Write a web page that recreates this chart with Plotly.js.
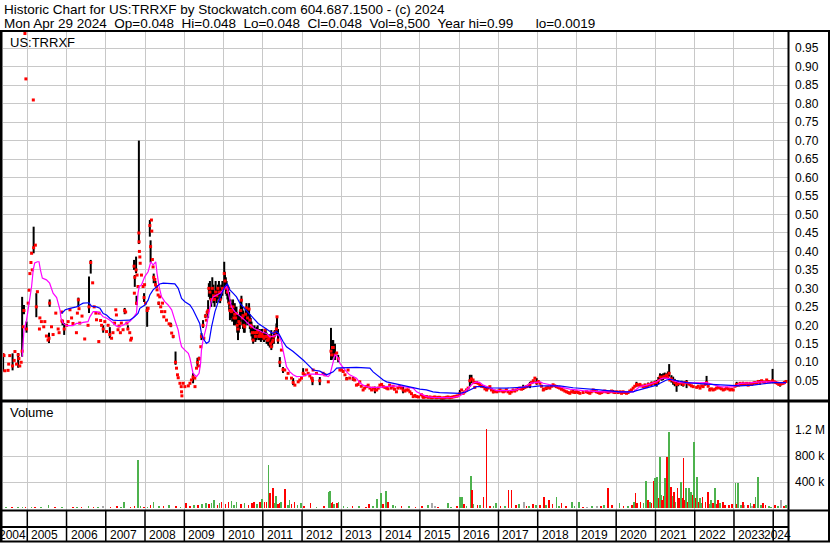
<!DOCTYPE html>
<html><head><meta charset="utf-8">
<script src="https://cdn.plot.ly/plotly-3.0.1.min.js"></script>
<style>html,body{margin:0;padding:0;background:#fff;} #chart{width:830px;height:543px;}</style>
</head><body><div id="chart"></div>
<script>
// ---------- closes (red dots) ----------
const closeDates = [
'2004-05-21','2004-05-29','2004-06-06','2004-07-06','2004-07-12','2004-07-22','2004-08-17','2004-09-01','2004-09-08','2004-09-23','2004-10-08','2004-10-15','2004-10-23','2004-11-05','2004-11-14','2004-11-25','2004-12-01','2004-12-10','2004-12-19','2004-12-25',
'2005-01-09','2005-01-18','2005-01-25','2005-02-04','2005-02-10','2005-02-16','2005-02-26','2005-03-01','2005-03-17','2005-03-26','2005-04-05','2005-04-24','2005-04-28','2005-05-12','2005-06-03','2005-06-13','2005-06-28','2005-07-13','2005-07-22','2005-07-28','2005-08-14','2005-08-29','2005-09-23','2005-10-15','2005-10-24','2005-11-16','2005-11-19','2005-11-25','2005-12-10',
'2006-01-02','2006-01-16','2006-02-02','2006-02-17','2006-03-02','2006-04-03','2006-04-12','2006-04-21','2006-04-27','2006-05-04','2006-05-25','2006-06-19','2006-07-20','2006-07-29','2006-08-14','2006-09-01','2006-09-15','2006-10-01','2006-10-07','2006-10-28','2006-10-31','2006-11-14','2006-11-23','2006-12-08','2006-12-23',
'2007-01-08','2007-01-23','2007-02-08','2007-02-24','2007-03-09','2007-03-24','2007-04-04','2007-04-10','2007-04-25','2007-05-04','2007-05-17','2007-05-26','2007-06-11','2007-06-26','2007-07-05','2007-07-17','2007-07-26','2007-08-12','2007-08-21','2007-08-28','2007-09-21','2007-09-24','2007-09-28','2007-10-10','2007-10-14','2007-10-19','2007-10-28','2007-11-05','2007-11-07','2007-11-10','2007-11-14','2007-11-17','2007-11-29','2007-12-14','2007-12-23','2007-12-28',
'2008-01-06','2008-01-21','2008-01-30','2008-02-15','2008-02-22','2008-03-01','2008-03-04','2008-03-10','2008-03-16','2008-03-22','2008-04-01','2008-04-08','2008-04-17','2008-04-22','2008-05-02','2008-05-08','2008-05-17','2008-05-26','2008-06-03','2008-06-12','2008-06-24','2008-07-03','2008-07-19','2008-08-12','2008-08-28','2008-09-05','2008-09-19','2008-10-11','2008-10-20','2008-10-29','2008-11-05','2008-11-21','2008-12-03','2008-12-06','2008-12-09','2008-12-21',
'2009-01-06','2009-02-07','2009-02-22','2009-03-08','2009-03-23','2009-04-08','2009-04-10','2009-04-24','2009-05-03','2009-05-15','2009-05-18','2009-06-03','2009-06-09','2009-06-24','2009-07-01','2009-07-16','2009-07-25','2009-08-01','2009-08-10','2009-08-17','2009-08-27','2009-09-08','2009-09-18','2009-09-29','2009-10-09','2009-10-19','2009-10-29','2009-11-09','2009-11-19','2009-11-30','2009-12-10','2009-12-21',
'2010-01-07','2010-01-14','2010-01-22','2010-01-29','2010-02-06','2010-02-13','2010-02-22','2010-03-01','2010-03-08','2010-03-15','2010-03-22','2010-03-30','2010-04-08','2010-04-15','2010-04-23','2010-05-01','2010-05-08','2010-05-15','2010-05-23','2010-06-01','2010-06-09','2010-06-16','2010-06-24','2010-07-01','2010-07-09','2010-07-17','2010-07-25','2010-08-02','2010-08-12','2010-08-26','2010-09-02','2010-09-10','2010-09-18','2010-09-26','2010-10-03','2010-10-15','2010-10-24','2010-11-04','2010-11-14','2010-11-24','2010-12-04','2010-12-14','2010-12-24',
'2011-01-04','2011-01-12','2011-01-20','2011-01-28','2011-02-05','2011-02-12','2011-02-20','2011-02-28','2011-03-06','2011-03-14','2011-03-21','2011-03-29','2011-04-06','2011-04-14','2011-04-22','2011-05-07','2011-05-13','2011-05-22','2011-06-08','2011-06-23','2011-07-08','2011-07-24','2011-08-09','2011-08-24','2011-09-25','2011-10-10','2011-10-26','2011-11-26','2011-12-11','2011-12-27',
'2012-01-11','2012-01-27','2012-02-12','2012-02-27','2012-03-13','2012-03-29','2012-04-07','2012-04-13','2012-05-14','2012-06-14','2012-07-15','2012-08-01','2012-09-01','2012-09-26','2012-10-02','2012-10-10','2012-10-17','2012-11-02','2012-11-18','2012-12-02','2012-12-18',
'2013-01-03','2013-01-18','2013-02-03','2013-02-19','2013-03-04','2013-03-19','2013-04-20','2013-05-05','2013-05-21','2013-06-05','2013-06-21','2013-07-05','2013-07-22','2013-08-05','2013-08-23','2013-09-07','2013-09-23','2013-10-09','2013-10-25','2013-11-09','2013-11-25','2013-12-10','2013-12-25',
'2014-01-10','2014-01-25','2014-02-10','2014-02-26','2014-03-10','2014-03-26','2014-04-10','2014-04-27','2014-05-10','2014-05-28','2014-06-10','2014-06-28','2014-07-10','2014-07-29','2014-08-15','2014-08-30','2014-09-15','2014-09-30','2014-10-15','2014-10-31','2014-11-15','2014-12-02','2014-12-20',
'2015-01-15','2015-01-28','2015-02-02','2015-02-18','2015-03-03','2015-03-20','2015-04-05','2015-04-20','2015-05-05','2015-05-20','2015-06-05','2015-06-20','2015-07-05','2015-07-20','2015-08-05','2015-08-20','2015-09-05','2015-09-20','2015-10-05','2015-10-20','2015-11-05','2015-11-20','2015-12-05','2015-12-20',
'2016-01-08','2016-01-24','2016-02-08','2016-02-22','2016-03-09','2016-03-25','2016-04-10','2016-04-25','2016-05-10','2016-05-18','2016-05-26','2016-06-11','2016-06-26','2016-07-12','2016-07-28','2016-08-12','2016-08-28','2016-09-13','2016-09-28','2016-10-13','2016-10-28','2016-11-14','2016-11-30','2016-12-15',
'2017-01-01','2017-01-15','2017-02-01','2017-02-15','2017-03-01','2017-03-16','2017-04-01','2017-04-17','2017-05-01','2017-05-17','2017-06-01','2017-06-18','2017-07-04','2017-07-19','2017-08-04','2017-08-19','2017-09-04','2017-09-20','2017-10-05','2017-10-21','2017-11-05','2017-11-21','2017-12-06','2017-12-22',
'2018-01-06','2018-01-22','2018-02-06','2018-02-22','2018-03-08','2018-03-23','2018-04-08','2018-04-24','2018-05-09','2018-05-24','2018-06-09','2018-06-25','2018-07-10','2018-07-25','2018-08-10','2018-08-26','2018-09-11','2018-09-27','2018-10-12','2018-10-27','2018-11-12','2018-11-27','2018-12-12','2018-12-28',
'2019-01-13','2019-01-29','2019-02-28','2019-03-31','2019-04-15','2019-05-01','2019-05-15','2019-06-01','2019-06-15','2019-07-02','2019-07-17','2019-08-02','2019-08-17','2019-09-02','2019-09-17','2019-10-03','2019-10-18','2019-11-04','2019-11-19','2019-12-04','2019-12-19',
'2020-01-05','2020-01-20','2020-02-05','2020-02-20','2020-03-05','2020-03-20','2020-04-06','2020-04-21','2020-05-07','2020-05-22','2020-06-07','2020-06-22','2020-07-08','2020-07-23','2020-08-09','2020-08-24','2020-09-09','2020-09-24','2020-10-10','2020-10-25','2020-11-10','2020-11-25','2020-12-11','2020-12-26',
'2021-01-12','2021-01-27','2021-02-12','2021-02-27','2021-03-13','2021-03-28','2021-04-14','2021-04-26','2021-05-08','2021-05-14','2021-05-29','2021-06-14','2021-06-29','2021-07-16','2021-07-31','2021-08-16','2021-09-01','2021-09-16','2021-10-01','2021-10-17','2021-11-01','2021-11-17','2021-12-02','2021-12-18',
'2022-01-19','2022-02-03','2022-02-19','2022-03-06','2022-03-20','2022-04-06','2022-04-21','2022-05-06','2022-05-21','2022-06-05','2022-06-21','2022-07-07','2022-07-23','2022-08-07','2022-08-23','2022-09-07','2022-09-23','2022-10-08','2022-10-24','2022-11-09','2022-11-25','2022-12-10','2022-12-25',
'2023-01-10','2023-01-26','2023-02-10','2023-02-26','2023-03-12','2023-03-27','2023-04-12','2023-04-28','2023-05-13','2023-05-28','2023-06-13','2023-06-28','2023-07-14','2023-07-30','2023-08-14','2023-08-30','2023-09-15','2023-10-01','2023-10-16','2023-11-01','2023-11-16','2023-12-01','2023-12-26',
'2024-01-10','2024-01-25','2024-02-08','2024-02-22','2024-03-05','2024-03-20','2024-04-02','2024-04-15','2024-04-29'
];
const closeValues = [
.12,.118,.077,.078,.095,.118,.09,.105,.129,.095,.12,.11,.09,.10,.13,.196,.24,.99,.867,.19,
.26,.295,.34,.37,.395,.35,.81,.41,.417,.25,.291,.19,.22,.21,.196,.21,.171,.16,.165,.26,.196,.175,.233,.19,.18,.236,.212,.21,.19,
.20,.21,.242,.22,.205,.18,.233,.269,.245,.206,.225,.163,.20,.25,.37,.315,.25,.233,.215,.156,.233,.213,.20,.19,.21,
.183,.20,.175,.165,.18,.206,.242,.228,.188,.198,.18,.206,.188,.24,.236,.206,.19,.18,.16,.165,.36,.287,.33,.35,.26,.336,.305,.45,.426,.40,.385,.368,.336,.305,.275,.31,
.26,.24,.246,.47,.413,.485,.455,.378,.358,.33,.324,.31,.305,.296,.282,.26,.277,.25,.237,.26,.223,.237,.214,.204,.20,.179,.17,.10,.084,.066,.058,.043,.034,.02,.009,.043,
.034,.036,.043,.052,.06,.057,.034,.084,.10,.09,.11,.142,.17,.20,.165,.225,.214,.235,.24,.30,.29,.27,.30,.28,.27,.29,.28,.30,.29,.27,.29,.30,
.34,.32,.30,.305,.29,.30,.26,.24,.25,.237,.24,.25,.22,.23,.22,.232,.20,.19,.21,.205,.24,.268,.22,.226,.20,.196,.23,.247,.22,.244,.214,.20,.196,.18,.16,.18,.17,.18,.185,.17,.178,.17,.175,
.17,.165,.187,.17,.17,.16,.16,.165,.17,.15,.142,.155,.16,.17,.18,.19,.223,.16,.10,.133,.08,.079,.057,.07,.057,.045,.038,.047,.052,.057,
.07,.066,.079,.07,.063,.057,.05,.079,.07,.05,.07,.066,.047,.13,.12,.14,.14,.12,.125,.11,.079,
.079,.075,.066,.055,.079,.057,.055,.052,.038,.04,.047,.035,.025,.03,.034,.038,.03,.025,.03,.025,.025,.03,.038,
.04,.034,.032,.03,.028,.038,.03,.035,.027,.02,.03,.034,.03,.025,.022,.025,.025,.02,.015,.007,.01,.007,.006,
.012,.008,.005,.006,.007,.005,.006,.004,.005,.006,.004,.005,.005,.003,.003,.004,.005,.006,.004,.005,.006,.007,.008,.009,
.015,.025,.016,.02,.025,.03,.05,.055,.052,.045,.032,.045,.043,.039,.035,.034,.028,.025,.03,.034,.025,.02,.022,.02,
.022,.025,.022,.02,.022,.025,.02,.016,.02,.025,.022,.025,.028,.03,.027,.03,.032,.034,.036,.04,.045,.05,.057,.045,
.048,.043,.035,.025,.028,.03,.032,.03,.035,.039,.036,.034,.032,.03,.027,.025,.022,.02,.018,.016,.02,.02,.018,.02,
.018,.016,.018,.02,.018,.016,.02,.025,.022,.02,.018,.016,.018,.02,.022,.02,.018,.02,.022,.02,.018,
.02,.018,.02,.016,.02,.018,.016,.018,.022,.025,.03,.035,.04,.038,.04,.036,.034,.038,.034,.04,.039,.042,.043,.045,
.045,.05,.06,.058,.06,.062,.065,.06,.07,.052,.055,.05,.045,.04,.042,.043,.045,.04,.045,.045,.042,.039,.036,.034,
.032,.035,.03,.036,.034,.04,.045,.035,.025,.028,.025,.027,.03,.032,.03,.028,.025,.027,.03,.028,.025,.027,.025,
.035,.04,.038,.043,.04,.043,.04,.043,.038,.043,.04,.043,.045,.043,.048,.045,.05,.047,.045,.052,.048,.047,.05,
.047,.045,.043,.04,.04,.042,.043,.045,.048
];

// ---------- high-low bars (black) ----------
const barDates = [
'2004-05-21','2004-08-17','2004-10-08','2004-11-14','2004-12-01','2004-12-25',
'2005-03-01','2005-03-26','2005-07-22','2005-07-28','2005-11-25','2005-12-10',
'2006-04-21','2006-07-29','2006-08-14','2006-12-08',
'2007-02-08','2007-06-26','2007-07-26','2007-09-21','2007-09-28','2007-10-10','2007-10-14','2007-11-05','2007-12-23',
'2008-01-21','2008-02-15','2008-02-22','2008-03-22','2008-04-08','2008-05-08','2008-08-28','2008-09-19','2008-10-11',
'2009-03-23','2009-05-03','2009-05-18','2009-06-09','2009-06-24','2009-07-16','2009-08-01','2009-08-10','2009-08-17','2009-08-27','2009-09-08','2009-09-18','2009-09-29','2009-10-09','2009-10-19','2009-10-29','2009-11-09','2009-11-19','2009-11-30','2009-12-10','2009-12-21',
'2010-01-07','2010-01-14','2010-01-22','2010-01-29','2010-02-06','2010-02-13','2010-02-22','2010-03-01','2010-03-08','2010-03-15','2010-03-22','2010-03-30','2010-04-08','2010-04-15','2010-04-23','2010-05-01','2010-05-08','2010-05-15','2010-05-23','2010-06-01','2010-06-09','2010-06-16','2010-06-24','2010-07-01','2010-07-09','2010-07-17','2010-07-25','2010-08-02','2010-08-12','2010-08-26','2010-09-02','2010-09-10','2010-09-18','2010-09-26','2010-10-03','2010-10-15','2010-10-24','2010-11-04','2010-11-14','2010-11-24','2010-12-04','2010-12-14','2010-12-24',
'2011-01-04','2011-01-12','2011-01-20','2011-01-28','2011-02-05','2011-02-12','2011-02-20','2011-02-28','2011-03-06','2011-03-14','2011-03-21','2011-03-29','2011-04-06','2011-04-14','2011-04-22','2011-05-07','2011-05-13','2011-05-22','2011-06-08','2011-07-08','2011-10-10',
'2012-01-11','2012-04-07','2012-06-14','2012-09-26','2012-10-02','2012-10-10','2012-10-17','2012-11-02','2012-12-02',
'2013-02-19','2013-04-20','2013-11-09',
'2014-07-29',
'2016-01-08','2016-04-10','2016-04-25','2016-05-26','2016-09-13','2016-11-14',
'2017-08-19','2017-10-21','2017-11-21','2017-12-22',
'2018-02-22','2018-03-23','2018-11-27',
'2019-12-04',
'2020-05-07','2020-07-08','2020-08-09','2020-09-24','2020-10-25','2020-11-25','2020-12-26',
'2021-01-12','2021-01-27','2021-02-12','2021-02-27','2021-03-13','2021-03-28','2021-04-14','2021-04-26','2021-05-08','2021-05-29','2021-06-14','2021-06-29','2021-07-16','2021-07-31','2021-09-01','2021-09-16','2021-10-17',
'2022-01-19','2022-04-21','2022-05-21',
'2023-01-26','2023-03-27','2023-06-28','2023-08-30','2023-12-26',
'2024-03-05'
];
const barHigh = [
.125,.124,.125,.277,.255,.21,
.467,.287,.18,.27,.215,.206,
.275,.332,.377,.20,
.195,.247,.20,.377,.336,.386,.28,.70,.287,
.25,.485,.43,.34,.32,.264,.207,.174,.129,
.071,.112,.115,.179,.214,.23,.24,.268,.314,.32,.30,.33,.31,.29,.32,.30,.31,.32,.30,.31,.32,
.372,.345,.33,.32,.31,.305,.29,.268,.27,.26,.26,.27,.25,.26,.25,.25,.23,.214,.23,.24,.27,.28,.25,.24,.23,.22,.25,.26,.25,.26,.23,.22,.21,.20,.19,.20,.19,.196,.20,.19,.19,.185,.19,
.178,.18,.19,.19,.18,.175,.17,.175,.175,.17,.187,.17,.17,.18,.187,.205,.223,.19,.114,.087,.057,
.084,.06,.06,.193,.15,.16,.16,.15,.12,
.06,.06,.034,
.034,
.025,.066,.066,.034,.03,.025,
.039,.047,.052,.057,
.03,.034,.025,
.025,
.025,.047,.043,.042,.045,.048,.05,
.052,.06,.07,.068,.07,.072,.07,.075,.095,.065,.061,.055,.052,.05,.05,.047,.052,
.034,.063,.03,
.047,.047,.047,.052,.082,
.043
];
const barLow = [
.075,.078,.085,.115,.23,.18,
.395,.222,.152,.25,.20,.174,
.25,.233,.34,.18,
.165,.23,.187,.35,.304,.341,.255,.42,.263,
.196,.44,.37,.314,.305,.255,.195,.165,.093,
.043,.088,.105,.16,.193,.22,.23,.22,.277,.27,.25,.27,.26,.25,.27,.26,.27,.28,.26,.27,.28,
.30,.30,.285,.28,.27,.26,.24,.214,.22,.22,.21,.22,.20,.21,.20,.21,.18,.16,.18,.19,.21,.22,.20,.19,.18,.18,.20,.21,.20,.21,.19,.18,.17,.16,.15,.16,.155,.16,.165,.16,.16,.155,.16,
.16,.155,.16,.16,.15,.15,.145,.145,.14,.14,.133,.14,.15,.15,.169,.175,.179,.15,.087,.071,.038,
.066,.038,.038,.106,.106,.11,.115,.106,.10,
.053,.05,.016,
.016,
.011,.034,.043,.03,.022,.016,
.025,.03,.043,.039,
.022,.025,.016,
.016,
.02,.034,.034,.032,.034,.036,.038,
.034,.04,.052,.05,.052,.055,.057,.055,.061,.045,.039,.035,.02,.035,.036,.034,.03,
.03,.039,.022,
.034,.039,.039,.039,.043,
.034
];

// ---------- moving averages ----------
const maShortDates = [
'2004-11-15','2004-12-01','2004-12-25',
'2005-01-18','2005-02-10','2005-02-25','2005-03-11','2005-04-05','2005-04-20','2005-05-03','2005-05-21','2005-06-28','2005-07-28','2005-08-29','2005-10-01','2005-10-15','2005-11-01','2005-11-10','2005-12-01',
'2006-01-02','2006-02-02','2006-03-02','2006-04-03','2006-05-04','2006-06-04','2006-07-20','2006-08-06','2006-09-06','2006-10-07','2006-11-08','2006-12-08',
'2007-01-08','2007-02-08','2007-03-09','2007-04-10','2007-05-11','2007-06-11','2007-07-12','2007-08-12','2007-09-13','2007-10-14','2007-10-28','2007-11-08','2007-11-29','2007-12-30',
'2008-01-30','2008-02-24','2008-03-16','2008-04-10','2008-04-22','2008-05-11','2008-06-03','2008-07-03','2008-08-03','2008-09-05','2008-10-05','2008-11-05','2008-11-21','2008-12-06',
'2009-01-06','2009-02-07','2009-02-22','2009-03-08','2009-03-23','2009-04-24','2009-05-18','2009-06-01','2009-06-09','2009-06-24','2009-07-10','2009-07-25','2009-08-10','2009-08-26','2009-09-11','2009-09-26','2009-10-28','2009-11-28','2009-12-28',
'2010-01-29','2010-02-13','2010-03-01','2010-03-15','2010-04-15','2010-05-15','2010-06-16','2010-07-17','2010-08-17','2010-09-18','2010-10-19','2010-11-19','2010-12-23',
'2011-02-05','2011-03-06','2011-04-06','2011-05-07','2011-05-29','2011-06-23','2011-07-08','2011-07-24','2011-08-09','2011-09-10','2011-10-10','2011-11-11','2011-12-11',
'2012-01-11','2012-02-12','2012-03-13','2012-05-14','2012-07-15','2012-09-01','2012-09-16','2012-10-02','2012-10-17','2012-11-02','2012-11-18','2012-12-02','2012-12-18',
'2013-01-18','2013-02-19','2013-03-19','2013-04-20','2013-05-21','2013-06-21','2013-07-22','2013-08-23','2013-09-23','2013-12-25',
'2014-03-26','2014-04-27','2014-06-28','2014-08-30','2014-10-31','2014-12-02',
'2015-01-01','2015-02-02','2015-03-03','2015-05-03','2015-07-04','2015-09-06','2015-11-07','2015-12-08',
'2016-01-08','2016-02-08','2016-03-09','2016-04-10','2016-05-10','2016-06-11','2016-07-12','2016-08-12','2016-10-13','2016-12-15',
'2017-03-16','2017-06-18','2017-07-19','2017-09-20','2017-10-21','2017-12-22',
'2018-01-22','2018-02-22','2018-03-23','2018-05-24','2018-07-25','2018-08-26','2018-10-27',
'2019-02-28','2019-06-01','2019-09-02','2019-12-04',
'2020-03-05','2020-05-07','2020-06-07','2020-07-08','2020-08-09','2020-10-10','2020-12-11',
'2021-01-12','2021-02-12','2021-03-13','2021-04-14','2021-05-14','2021-06-14','2021-07-16','2021-08-16','2021-10-17','2021-12-18',
'2022-02-19','2022-04-21','2022-06-21','2022-08-23','2022-10-24','2022-12-25',
'2023-01-26','2023-02-26','2023-05-28','2023-08-30','2023-12-01',
'2024-03-03','2024-04-29'
];
const maShortValues = [
.115,.187,.214,
.26,.305,.35,.369,.372,.372,.35,.328,.323,.314,.287,.275,.26,.242,.22,.205,
.199,.20,.199,.205,.205,.208,.21,.223,.237,.237,.233,.223,
.22,.214,.206,.198,.197,.20,.206,.21,.22,.233,.287,.305,.309,.332,
.345,.372,.363,.372,.341,.305,.277,.264,.255,.242,.214,.187,.16,.142,
.133,.124,.111,.088,.07,.061,.07,.097,.133,.16,.178,.196,.223,.25,.268,.277,.282,.287,.296,
.305,.29,.268,.25,.237,.23,.223,.214,.205,.196,.19,.187,.182,
.178,.169,.17,.174,.174,.156,.133,.106,.088,.074,.066,.061,.061,
.062,.066,.068,.068,.066,.061,.066,.084,.106,.12,.118,.111,.097,
.084,.074,.066,.061,.057,.045,.038,.034,.032,.032,
.034,.036,.035,.033,.03,.02,
.016,.011,.007,.005,.004,.004,.005,.007,
.009,.016,.025,.034,.043,.047,.045,.038,.03,.023,
.023,.025,.03,.036,.043,.047,
.047,.043,.041,.036,.033,.03,.027,
.023,.021,.02,.02,
.02,.018,.02,.027,.034,.038,.043,
.047,.054,.057,.057,.055,.05,.048,.045,.044,.043,
.044,.045,.04,.034,.033,.034,
.037,.043,.044,.047,.047,
.045,.044
];
const maLongDates = [
'2005-11-16','2005-12-20',
'2006-02-02','2006-04-03','2006-05-04','2006-06-04','2006-07-29','2006-08-21','2006-10-07','2006-11-08','2006-12-08',
'2007-01-08','2007-02-08','2007-03-09','2007-04-25','2007-06-11','2007-07-12','2007-08-12','2007-09-26','2007-10-28','2007-11-14','2007-12-31',
'2008-01-30','2008-02-15','2008-03-16','2008-04-17','2008-05-17','2008-06-18','2008-08-19','2008-10-05','2008-11-05','2008-12-06',
'2009-01-06','2009-02-22','2009-03-23','2009-04-24','2009-05-24','2009-06-09','2009-06-24','2009-07-25','2009-08-19','2009-09-11','2009-10-13','2009-11-13','2009-12-14',
'2010-01-13','2010-02-04','2010-03-01','2010-03-30','2010-05-01','2010-06-01','2010-07-01','2010-08-17','2010-10-03','2010-11-19',
'2011-01-04','2011-02-20','2011-04-06','2011-05-07','2011-05-29','2011-07-08','2011-08-09','2011-10-10','2011-12-11',
'2012-01-11','2012-02-12','2012-03-13','2012-04-13','2012-06-14','2012-07-15','2012-08-16','2012-09-16','2012-10-17','2012-11-18','2012-12-18',
'2013-05-21','2013-08-08','2013-09-23','2013-10-23','2013-11-25','2013-12-25',
'2014-01-25','2014-02-26','2014-04-27','2014-07-29','2014-09-30','2014-12-02',
'2015-01-01','2015-03-03','2015-05-03','2015-07-04','2015-11-07',
'2016-01-08','2016-03-09','2016-04-10','2016-06-11','2016-08-12','2016-09-13',
'2017-03-16','2017-07-19','2017-11-21',
'2018-01-22','2018-07-25','2018-11-27',
'2019-03-31','2019-08-02',
'2020-02-05','2020-06-07','2020-07-08','2020-10-10',
'2021-01-12','2021-02-12','2021-04-14','2021-05-14','2021-07-16','2021-08-16','2021-10-17',
'2022-04-21','2022-10-24',
'2023-02-26','2023-06-28','2023-08-30',
'2024-01-01','2024-04-29'
];
const maLongValues = [
.232,.242,
.246,.25,.255,.26,.261,.252,.25,.246,.232,
.228,.219,.214,.213,.213,.214,.214,.223,.232,.246,.255,
.268,.282,.296,.305,.312,.314,.314,.312,.30,.273,
.264,.255,.242,.223,.205,.178,.165,.151,.156,.196,.237,.264,.287,
.305,.312,.296,.287,.277,.26,.25,.237,.219,.205,
.196,.187,.178,.183,.178,.156,.142,.129,.115,
.106,.097,.088,.079,.076,.07,.066,.07,.074,.084,.085,
.086,.086,.084,.074,.066,.057,
.052,.047,.043,.038,.034,.03,
.027,.025,.02,.018,.016,
.016,.02,.025,.034,.034,.031,
.03,.031,.034,
.036,.036,.031,
.027,.025,
.02,.02,.023,.03,
.038,.043,.052,.054,.05,.047,.045,
.041,.038,
.036,.038,.041,
.045,.045
];

// ---------- volume ----------
const volDates = [
'2004-11-18','2005-07-18','2006-03-01','2006-12-08','2007-04-16','2007-06-21','2007-10-26','2008-03-19',
'2009-01-19','2009-03-29','2009-07-24','2009-10-03','2009-12-13','2010-03-15','2010-05-02','2010-10-13','2010-12-23',
'2011-01-16','2011-02-22','2011-03-11','2011-04-03','2011-05-01','2011-06-17','2011-07-29','2011-09-07','2011-10-23','2011-12-19',
'2012-03-20','2012-09-02','2012-09-16','2012-10-09','2012-12-04','2013-02-27','2013-09-16','2013-11-30',
'2014-01-07','2014-02-23','2014-03-08','2014-04-24','2015-03-15','2015-04-21','2015-09-18',
'2016-01-08','2016-01-26','2016-04-19','2016-04-28','2016-08-15','2016-09-12','2016-12-08',
'2017-04-05','2017-05-03','2017-08-25','2017-10-11','2018-02-28','2018-04-14','2018-06-25','2018-08-11','2018-11-14',
'2019-01-22','2019-04-02','2019-09-13','2019-10-16','2020-02-02','2020-06-12','2020-06-30','2020-07-14','2020-10-02','2020-11-10','2020-12-12','2020-12-26',
'2021-01-18','2021-02-12','2021-03-05','2021-03-28','2021-04-21','2021-05-05','2021-05-28','2021-06-21','2021-07-24','2021-08-25','2021-09-19','2021-10-11','2021-11-06','2021-11-29','2021-12-28',
'2022-01-19','2022-02-19','2022-03-14','2022-05-01','2022-06-02','2022-07-10','2022-08-04','2022-09-20',
'2023-01-14','2023-02-07','2023-03-23','2023-06-03','2023-07-20','2023-08-12','2023-09-28','2023-12-08','2024-03-11','2024-04-27'
];
const volValues = [
20000,46000,20000,25000,35000,97000,738000,87000,
72000,46000,72000,123000,97000,107000,97000,97000,138000,
87000,662000,226000,313000,190000,97000,292000,123000,97000,72000,
72000,251000,267000,97000,97000,20000,56000,138000,
226000,267000,97000,46000,46000,72000,72000,
174000,174000,497000,277000,174000,1210000,72000,
277000,277000,87000,36000,174000,123000,164000,72000,97000,
87000,20000,46000,313000,72000,97000,226000,72000,415000,97000,420000,456000,
482000,790000,123000,456000,790000,1174000,328000,251000,303000,405000,774000,303000,313000,251000,1020000,
482000,149000,174000,251000,123000,303000,123000,97000,
380000,390000,97000,72000,174000,482000,72000,20000,123000,46000
];
const volDirs = [
'g','g','r','n','r','g','g','g',
'r','g','g','g','r','g','g','r','g',
'r','g','r','r','g','g','r','g','r','g',
'r','g','g','r','g','g','r','g',
'g','g','r','g','g','n','g',
'g','g','g','r','r','r','g',
'r','r','n','g','r','r','g','r','g',
'g','n','g','r','g','g','r','r','g','g','r','g',
'g','g','r','g','r','g','r','r','r','g','r','g','g','g','g',
'g','g','r','r','g','g','r','r',
'g','g','r','g','g','g','r','g','n','g'
];
const smallVolDates = [
'2004-06-15','2004-08-10','2004-10-05','2004-12-15','2005-02-10','2005-03-15','2005-05-10','2005-09-15','2005-11-20',
'2006-04-10','2006-05-20','2006-07-25','2006-09-10','2006-10-20','2007-02-15','2007-05-20','2007-08-20','2007-09-25','2007-11-20','2007-12-20',
'2008-01-25','2008-02-20','2008-05-10','2008-06-20','2008-08-10','2008-10-15','2008-11-25',
'2009-02-20','2009-05-10','2009-06-15','2009-08-15','2009-09-10','2009-11-05','2009-11-25',
'2010-01-20','2010-02-15','2010-04-05','2010-06-10','2010-07-15','2010-08-20','2010-09-20','2010-11-10','2010-12-05',
'2011-02-05','2011-04-15','2011-05-20','2011-06-05','2011-08-20','2011-09-25','2011-11-20',
'2012-01-20','2012-05-15','2012-07-20','2012-09-25','2012-10-25','2012-11-20',
'2013-01-20','2013-04-15','2013-06-15','2013-08-15','2013-10-20','2014-01-25','2014-05-20','2014-07-15','2014-09-20','2014-11-20',
'2015-01-20','2015-05-20','2015-06-20','2015-10-15','2015-12-10','2016-02-15','2016-03-10','2016-05-15','2016-06-20','2016-07-15','2016-10-15','2016-11-15',
'2017-01-20','2017-03-05','2017-06-10','2017-07-10','2017-09-20','2017-11-15','2017-12-15','2018-01-20','2018-03-20','2018-05-20','2018-07-20','2018-09-20','2018-12-10',
'2019-03-01','2019-05-20','2019-07-10','2019-08-10','2019-11-20','2020-03-10','2020-04-20','2020-05-25','2020-08-15','2020-09-10','2020-10-25','2020-11-25',
'2021-01-05','2021-01-28','2021-02-25','2021-03-15','2021-04-05','2021-05-15','2021-06-05','2021-07-05','2021-08-10','2021-09-05','2021-10-01','2021-10-25','2021-11-15','2021-12-10',
'2022-01-05','2022-02-05','2022-03-01','2022-04-10','2022-05-20','2022-06-20','2022-07-25','2022-08-25','2022-10-10','2022-11-15','2022-12-15',
'2023-01-28','2023-03-05','2023-04-10','2023-05-10','2023-06-20','2023-07-05','2023-09-10','2023-10-20','2023-11-20','2024-01-15','2024-02-15','2024-04-10'
];
const smallVolValues = [
10000,8000,12000,15000,18000,12000,10000,15000,20000,
22000,18000,25000,15000,20000,12000,20000,18000,30000,25000,20000,
15000,40000,30000,25000,40000,30000,20000,
35000,40000,60000,55000,80000,45000,70000,
60000,85000,40000,60000,80000,50000,75000,60000,90000,
100000,80000,60000,70000,50000,60000,40000,
30000,20000,25000,80000,60000,70000,
30000,25000,30000,20000,35000,60000,30000,35000,25000,20000,
25000,35000,20000,15000,30000,60000,35000,60000,40000,45000,30000,25000,
25000,30000,40000,60000,35000,60000,45000,50000,40000,60000,30000,35000,25000,
20000,25000,30000,25000,40000,35000,30000,50000,90000,70000,120000,80000,
100000,150000,200000,180000,120000,150000,180000,100000,160000,150000,120000,100000,140000,200000,
150000,100000,80000,90000,60000,80000,60000,70000,50000,40000,60000,
60000,40000,50000,50000,30000,60000,50000,40000,30000,40000,25000,30000
];
const smallVolDirs = [
'g','r','g','r','g','r','g','r','g',
'g','r','g','r','g','r','g','r','r','g','r',
'g','r','g','r','g','r','g',
'r','r','g','r','g','r','g',
'r','r','g','r','g','r','r','g','r',
'r','g','r','r','g','r','g',
'r','g','r','r','g','r',
'g','r','g','r','g','r','g','r','g','r',
'r','n','r','g','r','r','g','g','r','g','r','g',
'r','g','r','g','r','r','g','r','g','r','g','r','g',
'r','g','n','r','r','r','g','r','r','g','r','r',
'r','r','g','r','g','g','g','g','r','r','r','r','r','r',
'r','r','g','r','g','r','r','g','r','r','r',
'r','g','n','r','n','r','g','r','g','r','g','r'
];

// ---------- labels ----------
const headerLine1 = 'Historic Chart for US:TRRXF by Stockwatch.com 604.687.1500 - (c) 2024';
const headerLine2 = 'Mon Apr 29 2024  Op=0.048  Hi=0.048  Lo=0.048  Cl=0.048  Vol=8,500  Year hi=0.99      lo=0.0019';
const symbolLabel = 'US:TRRXF';
const volumeLabel = 'Volume';
const priceTicks = [0.05,0.10,0.15,0.20,0.25,0.30,0.35,0.40,0.45,0.50,0.55,0.60,0.65,0.70,0.75,0.80,0.85,0.90,0.95];
const volTicks = [400000,800000,1200000];
const volTickText = ['400 k','800 k','1.2 M'];
const yearLabels = ['2004','2005','2006','2007','2008','2009','2010','2011','2012','2013','2014','2015','2016','2017','2018','2019','2020','2021','2022','2023','2024'];

// ---------- build ----------
const FONT = 'Liberation Sans, Arial, sans-serif';
const L = 3, R = 788, T = 32, B = 510;
const PX = x => (x - L) / (R - L);
const PY = y => (B - y) / (B - T);
const dirColor = {r:'#FF0000', g:'#4DB24D', n:'#A8A8A8'};

const segX = [], segY = [];
barDates.forEach((d, i) => { segX.push(d, d, null); segY.push(barLow[i], barHigh[i], null); });

const DAY = 86400000;
const allVolDates = smallVolDates.concat(volDates);
const allVolValues = smallVolValues.concat(volValues);
const allVolColors = smallVolDirs.concat(volDirs).map(c => dirColor[c]);

const traces = [
  {type:'scatter', mode:'lines', x:segX, y:segY, line:{color:'#000000', width:2}, xaxis:'x', yaxis:'y', hoverinfo:'skip'},
  {type:'scatter', mode:'markers', x:closeDates, y:closeValues, marker:{symbol:'square', size:3, color:'#FF0000', line:{width:0}}, xaxis:'x', yaxis:'y'},
  {type:'scatter', mode:'lines', x:maShortDates, y:maShortValues, line:{color:'#FF00FF', width:1.2}, xaxis:'x', yaxis:'y'},
  {type:'scatter', mode:'lines', x:maLongDates, y:maLongValues, line:{color:'#0000FF', width:1.2}, xaxis:'x', yaxis:'y'},
  {type:'bar', x:allVolDates, y:allVolValues, width:allVolDates.map(() => 16*DAY), marker:{color:allVolColors, line:{width:0}}, xaxis:'x', yaxis:'y2'}
];

const black = {color:'#000000', width:2};
const shapes = [
  {type:'line', xref:'paper', yref:'paper', x0:PX(0), x1:PX(830), y0:PY(31), y1:PY(31), line:black},
  {type:'line', xref:'paper', yref:'paper', x0:PX(0), x1:PX(830), y0:PY(401), y1:PY(401), line:{color:'#000', width:3}},
  {type:'line', xref:'paper', yref:'paper', x0:PX(0), x1:PX(830), y0:PY(510.5), y1:PY(510.5), line:black},
  {type:'line', xref:'paper', yref:'paper', x0:PX(0), x1:PX(788), y0:PY(527), y1:PY(527), line:black},
  {type:'line', xref:'paper', yref:'paper', x0:PX(0), x1:PX(830), y0:PY(541.5), y1:PY(541.5), line:black},
  {type:'line', xref:'paper', yref:'paper', x0:PX(1), x1:PX(1), y0:PY(31), y1:PY(542), line:{color:'#000', width:3}},
  {type:'line', xref:'paper', yref:'paper', x0:PX(788.5), x1:PX(788.5), y0:PY(31), y1:PY(542), line:black},
  {type:'line', xref:'paper', yref:'paper', x0:PX(829), x1:PX(829), y0:PY(31), y1:PY(542), line:black}
];
yearLabels.slice(1).forEach(y => {
  shapes.push({type:'line', xref:'x', yref:'paper', x0:y+'-01-01', x1:y+'-01-01', y0:PY(510), y1:PY(541), line:{color:'#000', width:1.5}});
});

const nb = s => s.replace(/ {2,}/g, m => '\u00a0'.repeat(m.length));
const annotations = [
  {xref:'paper', yref:'paper', x:PX(2), y:PY(9), xanchor:'left', yanchor:'middle', showarrow:false, text:headerLine1, font:{family:FONT, size:13.5, color:'#000'}},
  {xref:'paper', yref:'paper', x:PX(2), y:PY(23.5), xanchor:'left', yanchor:'middle', showarrow:false, text:nb(headerLine2), font:{family:FONT, size:13.5, color:'#000'}},
  {xref:'paper', yref:'paper', x:PX(8), y:PY(42), xanchor:'left', yanchor:'middle', showarrow:false, text:symbolLabel, font:{family:FONT, size:13, color:'#000'}},
  {xref:'paper', yref:'paper', x:PX(8), y:PY(412), xanchor:'left', yanchor:'middle', showarrow:false, text:volumeLabel, font:{family:FONT, size:13, color:'#000'}}
];
yearLabels.forEach((y, i) => {
  const a = {yref:'paper', y:PY(534.5), yanchor:'middle', showarrow:false, text:y, font:{family:FONT, size:12, color:'#000'}, borderpad:0};
  if (i === 0) { a.xref = 'paper'; a.x = PX(-2); a.xanchor = 'left'; }
  else if (i === yearLabels.length - 1) { a.xref = 'paper'; a.x = PX(792); a.xanchor = 'right'; }
  else { a.xref = 'x'; a.x = y + '-01-01'; a.xanchor = 'left'; a.xshift = 3; }
  annotations.push(a);
});

const layout = {
  width:830, height:543,
  margin:{l:L, r:830-R, t:T, b:543-B, pad:0},
  paper_bgcolor:'#ffffff', plot_bgcolor:'#ffffff',
  showlegend:false, hovermode:false, bargap:0,
  xaxis:{type:'date', range:['2004-05-20','2024-05-17 12:00'], anchor:'y2', showgrid:true, gridcolor:'#C8C8C8', gridwidth:1,
         tick0:'2005-01-01', dtick:'M12', showticklabels:false, ticks:'', zeroline:false, showline:false},
  yaxis:{domain:[PY(400), 1], range:[-0.0022, 0.994], side:'right', tickmode:'array', tickvals:priceTicks,
         ticktext:priceTicks.map(v => v.toFixed(2)), showgrid:true, gridcolor:'#C8C8C8', gridwidth:1, zeroline:false,
         ticks:'', ticklabelstandoff:6, tickfont:{family:FONT, size:12, color:'#000'}, showline:false},
  yaxis2:{domain:[0, PY(402)], range:[-30769, 1630769], side:'right', tickmode:'array', tickvals:volTicks, ticktext:volTickText,
          showgrid:true, gridcolor:'#C8C8C8', gridwidth:1, zeroline:false, ticks:'', ticklabelstandoff:6,
          tickfont:{family:FONT, size:12, color:'#000'}, showline:false},
  shapes:shapes, annotations:annotations
};

Plotly.newPlot('chart', traces, layout, {staticPlot:true, displayModeBar:false});
</script></body></html>
